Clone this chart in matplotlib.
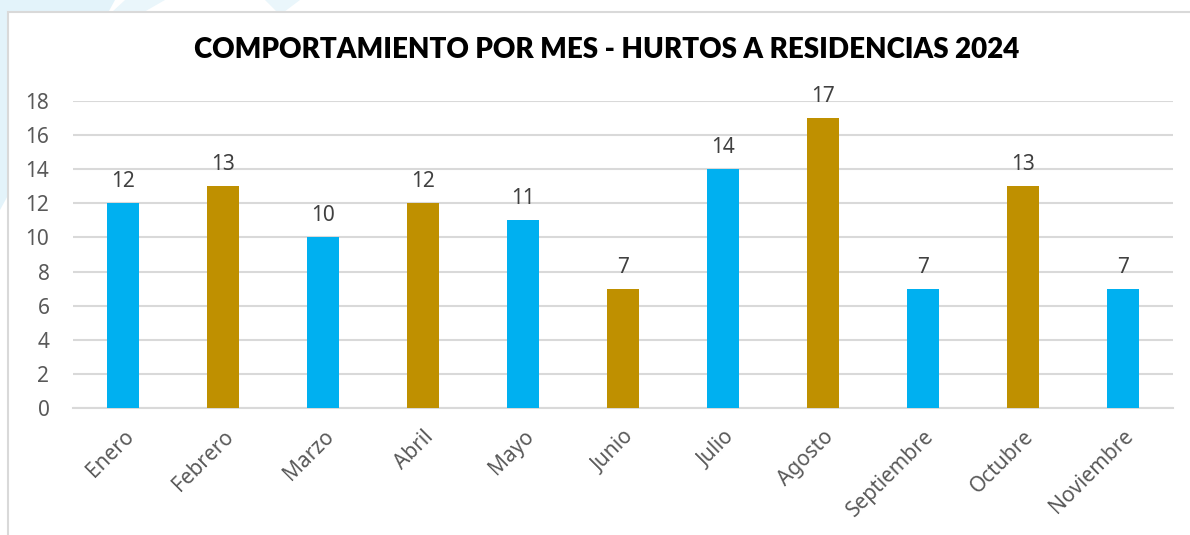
import matplotlib
matplotlib.use("Agg")
import matplotlib.pyplot as plt
from matplotlib.patches import Polygon, Rectangle

months = ["Enero", "Febrero", "Marzo", "Abril", "Mayo", "Junio", "Julio",
          "Agosto", "Septiembre", "Octubre", "Noviembre"]
values = [12, 13, 10, 12, 11, 7, 14, 17, 7, 13, 7]
bar_colors = ["#00B0F0", "#BF9000", "#00B0F0", "#BF9000", "#00B0F0", "#BF9000",
              "#00B0F0", "#BF9000", "#00B0F0", "#BF9000", "#00B0F0"]
yticks = [0, 2, 4, 6, 8, 10, 12, 14, 16, 18]
title = "COMPORTAMIENTO POR MES - HURTOS A RESIDENCIAS 2024"

W, H = 1190, 535
fig = plt.figure(figsize=(W / 100, H / 100), dpi=100)
fig.patch.set_facecolor("white")

# faint decoration top-left
for pts, c in [([(0, H), (115, H), (0, H - 210)], "#E3F3FA"),
               ([(125, H), (165, H), (60, H - 60)], "#EAF6FB"),
               ([(265, H), (300, H), (280, H - 15)], "#EAF6FB")]:
    fig.patches.append(Polygon([(x / W, y / H) for x, y in pts], closed=True,
                               transform=fig.transFigure, facecolor=c,
                               edgecolor="none", zorder=0))

# chart frame
fig.patches.append(Rectangle((8 / W, -0.05), 1.2, (H - 12) / H + 0.05,
                             transform=fig.transFigure, facecolor="white",
                             edgecolor="#D9D9D9", linewidth=1.5, zorder=0.5))

ax = fig.add_axes([73 / W, 1 - 408 / H, (1173 - 73) / W, (408 - 101) / H])
ax.set_zorder(2)
ax.set_facecolor("none")
x = list(range(len(months)))
bars = ax.bar(x, values, width=0.32, color=bar_colors, zorder=3)
ax.set_xlim(-0.5, len(months) - 0.5)
ax.set_ylim(0, 18)
ax.set_yticks(yticks)
ax.grid(axis="y", color="#D9D9D9", linewidth=1.5, zorder=0)
for s in ["top", "right", "left"]:
    ax.spines[s].set_visible(False)
ax.spines["bottom"].set_color("#D9D9D9")
ax.spines["bottom"].set_linewidth(1.5)
ax.tick_params(axis="both", length=0, colors="#595959", labelsize=15)
ax.tick_params(axis="y", pad=17)
ax.tick_params(axis="x", pad=13)
ax.set_xticks(x)
ax.set_xticklabels(months, rotation=45, ha="right", rotation_mode="anchor",
                   fontfamily="Noto Sans", color="#595959", fontsize=15)
for lbl in ax.get_yticklabels():
    lbl.set_fontfamily("Noto Sans")
for xi, v in zip(x, values):
    ax.annotate(str(v), (xi, v), xytext=(0, 8), textcoords="offset points",
                ha="center", va="bottom", fontsize=15, color="#404040",
                fontfamily="Noto Sans")

fig.text(607 / W, 1 - 50 / H, title, ha="center", va="center",
         fontsize=20, fontweight="heavy", fontfamily="Lato", color="black",
         zorder=3)

fig.savefig("out.png", dpi=100)
